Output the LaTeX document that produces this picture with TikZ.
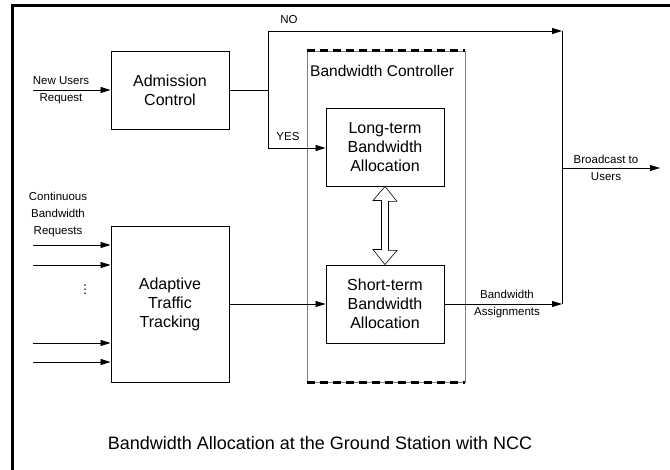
\documentclass[tikz,border=0pt]{standalone}
\usepackage{fontspec}
\setmainfont{Liberation Sans}
\newfontfamily\symfont{DejaVu Sans}
\usetikzlibrary{positioning,arrows.meta}
\tikzset{
  flowarrow/.style={-{Triangle[length=10pt,width=6pt]}, line width=0.8pt},
  flowline/.style={line width=0.8pt},
  blockbox/.style={draw, line width=0.9pt, minimum width=118pt, minimum height=78pt, align=center, font=\fontsize{16}{19}\selectfont},
  groupbox/.style={draw=gray, line width=0.9pt, minimum width=158pt, minimum height=331pt, inner sep=0pt},
  groupedge/.style={line width=2.2pt, dash pattern=on 8pt off 5pt},
  smalllabel/.style={align=center, font=\fontsize{11.5}{17}\selectfont, inner sep=0pt},
  biglabel/.style={font=\fontsize{15.5}{18}\selectfont, inner sep=0pt}
}
\begin{document}
\begin{tikzpicture}[x=1pt, y=-1pt]
  \useasboundingbox (0,0) rectangle (670,470);
  \draw[line width=3pt] (12,470) -- (12,6) -- (670,6);
  \node[groupbox] (ctrl) at (386,216.5) {};
  \draw[groupedge] (ctrl.north west) -- (ctrl.north east);
  \draw[groupedge] (ctrl.south west) -- (ctrl.south east);
  \node[biglabel, anchor=west] (ctrllbl) at (310,71) {Bandwidth Controller};
  \node[blockbox] (adm) at (170,90) {Admission\\Control};
  \node[blockbox, minimum height=156pt] (att) at (170,304) {Adaptive\\Traffic\\Tracking};
  \node[blockbox] (long) at (385,147) {Long-term\\Bandwidth\\Allocation};
  \node[blockbox] (short) at (385,304) {Short-term\\Bandwidth\\Allocation};
  \coordinate (newin) at (33,90);
  \coordinate (split) at (268,90);
  \coordinate (notop) at (268,31);
  \coordinate (yesbot) at (268,148);
  \coordinate (noend) at (562,31);
  \coordinate (join) at (562,304);
  \coordinate (bcast) at (562,168);
  \coordinate (bout) at (660,168);
  \draw[flowarrow] (newin) -- (adm);
  \draw[flowline] (adm.east) -- (split) -- (notop);
  \draw[flowarrow] (notop) -- (noend);
  \draw[flowline] (split) -- (yesbot);
  \draw[flowarrow] (yesbot) -- (yesbot -| long.west);
  \foreach \y in {245,265,343,362} {
    \coordinate (req\y) at (33,\y);
    \draw[flowarrow] (req\y) -- (req\y -| att.west);
  }
  \draw[flowarrow] (att) -- (short);
  \draw[flowarrow] (short) -- (join);
  \draw[flowline] (noend) -- (join);
  \draw[flowarrow] (bcast) -- (bout);
  \draw[line width=0.6pt] (long.south) -- ++(12,15) -- ++(-8.5,0) -- ++(0,49) -- ++(8.5,0)
    -- (short.north) -- ++(-12,-15) -- ++(8.5,0) -- ++(0,-49) -- ++(-8.5,0) -- cycle;
  \node[smalllabel] (newlbl) at (61,90) {New Users\\Request};
  \node[smalllabel] (nolbl) at (289,20) {NO};
  \node[smalllabel] (yeslbl) at (288,137) {YES};
  \node[smalllabel] (reqlbl) at (58,215) {Continuous\\Bandwidth\\Requests};
  \node[smalllabel] (dots) at (85,290) {\symfont\fontsize{12}{12}\selectfont ⋮};
  \node[smalllabel] (asglbl) at (507,304) {Bandwidth\\Assignments};
  \node[smalllabel] (bclbl) at (606,168) {Broadcast to\\Users};
  \node[font=\fontsize{18}{20}\selectfont, inner sep=0pt] (caption) at (320,443) {Bandwidth Allocation at the Ground Station with NCC};
\end{tikzpicture}
\end{document}
